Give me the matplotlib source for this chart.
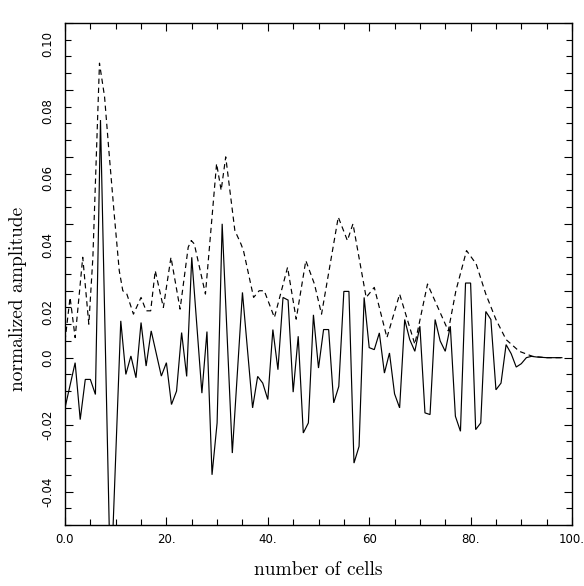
import matplotlib
matplotlib.use("Agg")
import matplotlib.pyplot as plt
import matplotlib.transforms as mtransforms

# ---- data ----
solid_x = [0, 2, 3, 4, 5, 6, 7, 9, 11, 12, 13, 14, 15, 16, 17, 19, 20, 21, 22, 23, 24, 25,
           27, 28, 29, 30, 31, 33, 35, 37, 38, 39, 40, 41, 42, 43, 44, 45, 46, 47, 48, 49,
           50, 51, 52, 53, 54, 55, 56, 57, 58, 59, 60, 61, 62, 63, 64, 65, 66, 67, 68, 69,
           70, 71, 72, 73, 74, 75, 76, 77, 78, 79, 80, 81, 82, 83, 84, 85, 86, 87, 88, 89,
           90, 91, 92, 93, 95, 98]
solid_y = [-0.015, -0.0015, -0.0185, -0.0065, -0.0065, -0.011, 0.071, -0.070, 0.011, -0.005,
           0.0005, -0.006, 0.0105, -0.0025, 0.008, -0.0055, -0.0015, -0.014, -0.010, 0.0075,
           -0.0056, 0.030, -0.0106, 0.0078, -0.035, -0.0195, 0.040, -0.0285, 0.0195, -0.015,
           -0.0056, -0.0076, -0.0125, 0.0084, -0.0036, 0.0180, 0.0172, -0.0103, 0.0064,
           -0.0225, -0.0195, 0.0128, -0.0031, 0.0084, 0.0084, -0.0135, -0.0086, 0.0198,
           0.0198, -0.0315, -0.0265, 0.0180, 0.0030, 0.0024, 0.0074, -0.0046, 0.0014,
           -0.0108, -0.015, 0.0114, 0.0054, 0.0019, 0.0094, -0.0165, -0.017, 0.0114, 0.0050,
           0.0019, 0.0094, -0.0175, -0.022, 0.0223, 0.0223, -0.0215, -0.0195, 0.0138, 0.0114,
           -0.0096, -0.0076, 0.0039, 0.0012, -0.0028, -0.0018, 0.0, 0.0004, 0.0002, 0.0, 0.0]

dash_x = [0, 1, 2, 3.5, 4.7, 5.5, 6.8, 7.8, 8.7, 9.7, 10.7, 11.4, 12.2, 13.5, 15, 16, 16.9,
          17.8, 19.4, 20.9, 22.7, 24.3, 24.9, 25.5, 27.7, 29.9, 30.8, 31.7, 33.5, 34.7, 35.2,
          37.2, 38.3, 39.3, 41.3, 43.9, 45.6, 47.5, 49.2, 50.6, 53.9, 55.7, 56.8, 59.4, 61.0,
          63.5, 66.0, 69.0, 71.5, 75.6, 77.1, 79.2, 81.1, 83.0, 85.0, 87.0, 89.6, 92.2, 94.8,
          97.8]
dash_y = [0.005, 0.018, 0.006, 0.030, 0.010, 0.030, 0.088, 0.078, 0.061, 0.043, 0.026, 0.020,
          0.019, 0.013, 0.018, 0.014, 0.014, 0.026, 0.015, 0.030, 0.0145, 0.033, 0.035, 0.034,
          0.019, 0.058, 0.050, 0.060, 0.038, 0.034, 0.032, 0.018, 0.020, 0.020, 0.012, 0.027,
          0.0115, 0.029, 0.022, 0.013, 0.042, 0.035, 0.040, 0.018, 0.021, 0.006, 0.019, 0.004,
          0.022, 0.008, 0.020, 0.032, 0.028, 0.019, 0.0114, 0.0054, 0.0019, 0.0004, 0.0, 0.0]

x_ticks = [0, 20, 40, 60, 80, 100]
x_tick_labels = ["0.0", "20.", "40.", "60", "80.", "100."]
y_ticks = [-0.04, -0.02, 0.0, 0.02, 0.04, 0.06, 0.08, 0.10]
y_tick_labels = ["-0.04", "-0.02", "0.0", "0.02", "0.04", "0.06", "0.08", "0.10"]

W, H = 584, 586
fig = plt.figure(figsize=(W / 100, H / 100), dpi=100)
ax = fig.add_axes([65 / W, 1 - 525 / H, (572 - 65) / W, (525 - 23) / H])

ax.plot(solid_x, solid_y, color="black", lw=0.85, solid_joinstyle="miter")
ax.plot(dash_x, dash_y, color="black", lw=0.85, linestyle=(0, (4.5, 3.2)))

ax.set_xlim(0, 100)
ax.set_ylim(-0.05, 0.10)

ax.set_xticks(x_ticks)
ax.set_xticklabels(x_tick_labels, fontsize=8.5, family="DejaVu Sans")
ax.set_xticks(list(range(0, 101, 5)), minor=True)
ax.set_yticks(y_ticks)
ax.set_yticklabels(y_tick_labels, fontsize=8.5, family="DejaVu Sans", rotation=90, va="center")
ax.set_yticks([-0.05 + 0.005 * i for i in range(31)], minor=True)

ax.tick_params(which="both", direction="in", top=True, right=True, width=0.8, color="black")
ax.tick_params(which="major", length=6)
ax.tick_params(which="minor", length=4)
ax.tick_params(axis="x", which="major", pad=6)
ax.tick_params(axis="y", which="major", pad=8)

for s in ax.spines.values():
    s.set_linewidth(1.0)

# positive labels sit below their ticks in the reference
off = mtransforms.ScaledTranslation(0, -0.21, fig.dpi_scale_trans)
for v, lab in zip(y_ticks, ax.get_yticklabels()):
    if v > 0.001:
        lab.set_transform(lab.get_transform() + off)

ax.set_xlabel("number of cells", fontsize=14, family="cmr10")
ax.set_ylabel("normalized amplitude", fontsize=14, family="cmr10")
ax.xaxis.set_label_coords(0.5, -0.072)
ax.yaxis.set_label_coords(-0.075, 0.45)

fig.savefig("out.png", dpi=100)
